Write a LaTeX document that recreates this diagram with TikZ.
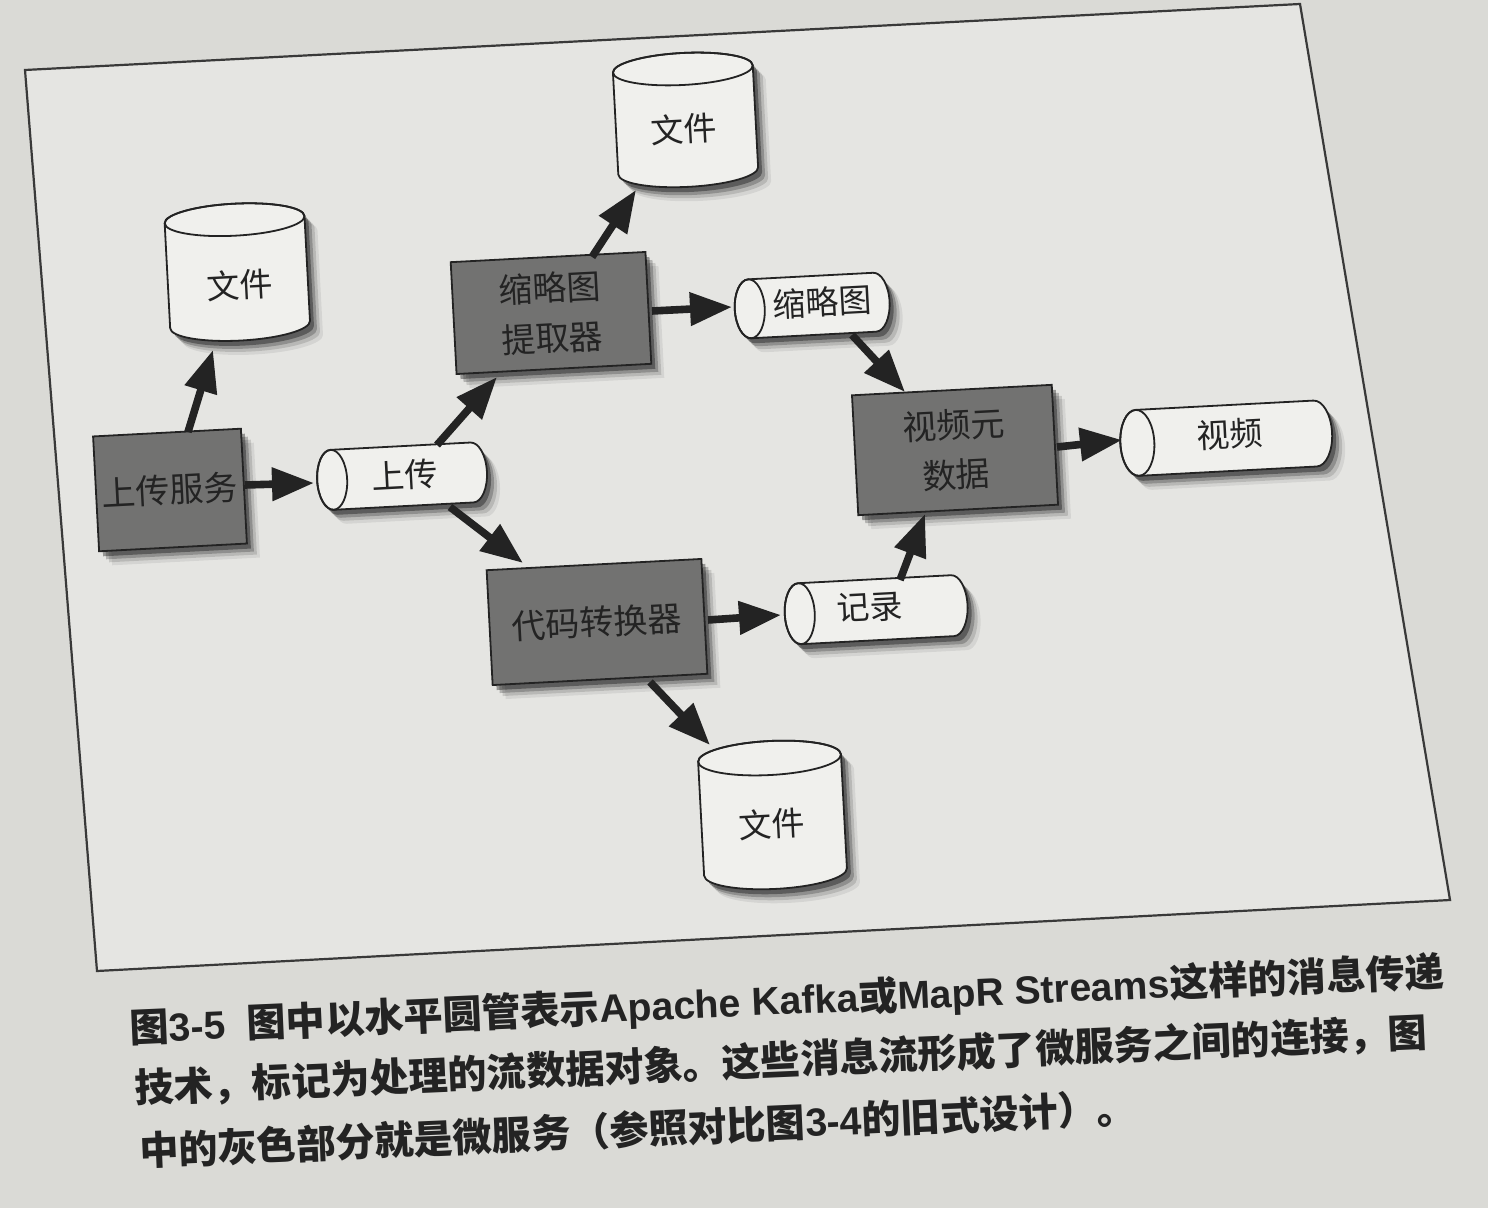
\documentclass[tikz,border=0pt]{standalone}
\usepackage{fontspec}
\newfontfamily\cjk{Noto Sans CJK SC}
\newfontfamily\latf{Liberation Sans}
\usetikzlibrary{arrows.meta,shadows}
\definecolor{pagebg}{RGB}{218,218,214}
\definecolor{framebg}{RGB}{229,229,226}
\definecolor{boxgray}{RGB}{114,114,113}
\definecolor{cylwhite}{RGB}{240,240,237}
\definecolor{inkc}{RGB}{35,35,35}
\pgfdeclarelayer{back0}
\pgfdeclarelayer{back1}
\pgfsetlayers{back0,back1,main}
\tikzset{
 softshadow/.style={
   drop shadow={shadow xshift=2pt,shadow yshift=-2.5pt,opacity=.35,fill=black},
   drop shadow={shadow xshift=3.5pt,shadow yshift=-4pt,opacity=.22,fill=black},
   drop shadow={shadow xshift=5pt,shadow yshift=-5.5pt,opacity=.13,fill=black},
   drop shadow={shadow xshift=6.5pt,shadow yshift=-7pt,opacity=.07,fill=black}},
 svcbox/.style={draw=inkc, line width=0.9pt, fill=boxgray, rotate=3, inner sep=0pt,
   align=center, text=inkc, font=\cjk\fontsize{17}{25}\selectfont, softshadow},
 lbl/.style={rotate=3, inner sep=0pt, text=inkc, font=\cjk\fontsize{16.5}{20}\selectfont},
 shapeline/.style={draw=inkc, line width=0.9pt, fill=cylwhite},
 arr/.style={draw=inkc, line width=3.8pt, -{Triangle[length=21pt,width=16pt]}},
 captxt/.style={anchor=base west, rotate=2.5, inner sep=0pt, text=inkc,
   font=\cjk\bfseries\fontsize{19.6}{24}\selectfont},
}
% vertical cylinder: node, dx, dy, W, H, r  (pixel units)
\newcommand\vcyl[6]{%
 \begin{pgfonlayer}{back1}
 \begin{scope}[shift={(#1.center)},rotate=3,shift={(#2,#3)}]
  \path[shapeline,softshadow] (-#4/2,-#5/2+#6) -- (-#4/2,#5/2-#6)
    arc[start angle=180,end angle=360,x radius=#4*0.25pt,y radius=#6*0.5pt]
    -- (#4/2,-#5/2+#6)
    arc[start angle=0,end angle=180,x radius=#4*0.25pt,y radius=#6*0.5pt] -- cycle;
  \draw[inkc,line width=0.9pt] (0,-#5/2+#6) ellipse[x radius=#4*0.25pt,y radius=#6*0.5pt];
 \end{scope}
 \end{pgfonlayer}}
% horizontal tube: node, dx, dy, W, H, rx
\newcommand\htube[6]{%
 \begin{pgfonlayer}{back1}
 \begin{scope}[shift={(#1.center)},rotate=3,shift={(#2,#3)}]
  \path[shapeline,softshadow] (-#4/2+#6,-#5/2) -- (#4/2-#6,-#5/2)
    arc[start angle=90,end angle=-90,x radius=#6*0.5pt,y radius=#5*0.25pt]
    -- (-#4/2+#6,#5/2)
    arc[start angle=270,end angle=90,x radius=#6*0.5pt,y radius=#5*0.25pt] -- cycle;
  \draw[inkc,line width=0.9pt] (-#4/2+#6,0) ellipse[x radius=#6*0.5pt,y radius=#5*0.25pt];
 \end{scope}
 \end{pgfonlayer}}
\begin{document}
\begin{tikzpicture}[x=0.5pt,y=-0.5pt]
\useasboundingbox (0,0) rectangle (1488,1208);
\begin{pgfonlayer}{back0}
 \fill[pagebg] (0,0) rectangle (1488,1208);
 \fill[framebg] (25,70) -- (1300,4) -- (1450,900) -- (97,971) -- cycle;
 \draw[inkc!90,line width=1.1pt] (25,70) -- (1300,4) -- (1450,900) -- (97,971) -- cycle;
\end{pgfonlayer}

% services
\node[svcbox, minimum width=74pt, minimum height=57.5pt] (b1) at (170,490) {上传服务};
\node[svcbox, minimum width=97.5pt, minimum height=56pt] (b2) at (551,313) {缩略图\\提取器};
\node[svcbox, minimum width=100pt, minimum height=60pt] (b3) at (955,450) {视频元\\数据};
\node[svcbox, minimum width=107.5pt, minimum height=57.5pt] (b4) at (597,622) {代码转换器};

% file stores
\node[lbl] (f1) at (240,285) {文件};
\node[lbl] (f2) at (684,129) {文件};
\node[lbl] (f3) at (772,824) {文件};
\vcyl{f1}{-2}{-13}{140}{137}{16}
\vcyl{f2}{2}{-9}{140}{134}{16}
\vcyl{f3}{1}{-9}{143}{148}{17}

% streams
\node[lbl] (t1) at (405,475) {上传};
\node[lbl] (t2) at (822,302) {缩略图};
\node[lbl] (t3) at (870,607) {记录};
\node[lbl] (t4) at (1230,434) {视频};
\htube{t1}{-3}{1}{170}{60}{15}
\htube{t2}{-10}{3}{155}{59}{15}
\htube{t3}{6}{3}{183}{61}{15}
\htube{t4}{-4}{4}{212}{66}{17}

% connectors
\draw[arr] ([shift={(18,-58)}]b1.center) -- ([shift={(-27,65)}]f1.center);
\draw[arr] ([shift={(75,-5)}]b1.center) -- ([shift={(-91,8)}]t1.center);
\draw[arr] ([shift={(32,-30)}]t1.center) -- ([shift={(-54,64)}]b2.center);
\draw[arr] ([shift={(45,32)}]t1.center) -- ([shift={(-74,-59)}]b4.center);
\draw[arr] ([shift={(41,-56)}]b2.center) -- ([shift={(-48,61)}]f2.center);
\draw[arr] ([shift={(101,-2)}]b2.center) -- ([shift={(-90,5)}]t2.center);
\draw[arr] ([shift={(30,33)}]t2.center) -- ([shift={(-50,-58)}]b3.center);
\draw[arr] ([shift={(30,-27)}]t3.center) -- ([shift={(-30,64)}]b3.center);
\draw[arr] ([shift={(102,-3)}]b3.center) -- ([shift={(-108,6)}]t4.center);
\draw[arr] ([shift={(111,-2)}]b4.center) -- ([shift={(-89,8)}]t3.center);
\draw[arr] ([shift={(53,60)}]b4.center) -- ([shift={(-62,-79)}]f3.center);

% caption
\node[captxt] (cap1) at (130,1043) {图{\latf\bfseries 3-5}\hspace{0.55em}图中以水平圆管表示{\latf\bfseries Apache Kafka}或{\latf\bfseries MapR Streams}这样的消息传递};
\node[captxt] (cap2) at (135,1103) {技术，标记为处理的流数据对象。这些消息流形成了微服务之间的连接，图};
\node[captxt] (cap3) at (140,1166) {中的灰色部分就是微服务（参照对比图{\latf\bfseries 3-4}的旧式设计）。};
\end{tikzpicture}
\end{document}
